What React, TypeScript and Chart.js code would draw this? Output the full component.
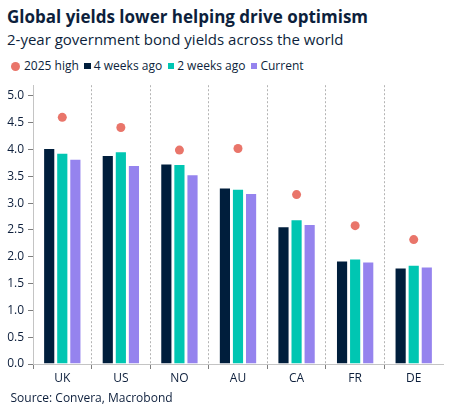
import React, { useEffect, useRef } from "react";
import { Chart, registerables } from "chart.js";

Chart.register(...registerables);

const categories = ["UK", "US", "NO", "AU", "CA", "FR", "DE"];
const high2025 = [4.6, 4.41, 3.99, 4.02, 3.16, 2.58, 2.32];
const weeks4Ago = [4.03, 3.9, 3.74, 3.29, 2.57, 1.93, 1.8];
const weeks2Ago = [3.94, 3.97, 3.73, 3.27, 2.7, 1.97, 1.85];
const current = [3.83, 3.71, 3.54, 3.19, 2.61, 1.91, 1.82];
const yTickValues = [0, 0.5, 1, 1.5, 2, 2.5, 3, 3.5, 4, 4.5, 5];

const seriesNames = ["2025 high", "4 weeks ago", "2 weeks ago", "Current"];
const seriesColors = ["#E9756A", "#001E3C", "#00C6B2", "#9583EE"];

const FONT = "'Open Sans', 'Noto Sans', sans-serif";
const TEXT = "#0D1F3C";

export default function App() {
  const canvasRef = useRef<HTMLCanvasElement | null>(null);

  useEffect(() => {
    if (!canvasRef.current) return;
    const barStyle = {
      borderColor: "rgba(255,255,255,0.45)",
      borderWidth: 1,
      categoryPercentage: 0.67,
      barPercentage: 0.93,
    };
    const chart = new Chart(canvasRef.current, {
      type: "bar",
      data: {
        labels: categories,
        datasets: [
          {
            type: "line",
            label: seriesNames[0],
            data: high2025,
            showLine: false,
            pointRadius: 4.5,
            pointHoverRadius: 4.5,
            pointBorderWidth: 0,
            pointBackgroundColor: seriesColors[0],
            borderColor: seriesColors[0],
            backgroundColor: seriesColors[0],
          } as any,
          { label: seriesNames[1], data: weeks4Ago, backgroundColor: seriesColors[1], ...barStyle },
          { label: seriesNames[2], data: weeks2Ago, backgroundColor: seriesColors[2], ...barStyle },
          { label: seriesNames[3], data: current, backgroundColor: seriesColors[3], ...barStyle },
        ],
      },
      options: {
        animation: false,
        responsive: false,
        maintainAspectRatio: false,
        layout: { padding: { top: 6, right: 16, left: 0, bottom: 0 } },
        plugins: {
          legend: { display: false },
          tooltip: { enabled: false },
          title: { display: false },
        },
        scales: {
          x: {
            grid: {
              offset: true,
              drawOnChartArea: true,
              drawTicks: true,
              tickLength: 5,
              lineWidth: 1,
              color: (c: any) =>
                typeof c.index === "number" && c.index > 0 ? "#B4B4B4" : "rgba(0,0,0,0)",
              tickColor: (c: any) =>
                typeof c.index === "number" ? "#7F7F7F" : "rgba(0,0,0,0)",
            },
            border: { display: true, color: "#C4C4C4", width: 1, dash: [2, 2] },
            ticks: {
              color: TEXT,
              font: { family: FONT, size: 12 },
              padding: 2,
              maxRotation: 0,
            },
            afterFit: (scale: any) => {
              scale.height = 26;
            },
          },
          y: {
            min: 0,
            max: 5.2,
            grid: {
              drawOnChartArea: false,
              drawTicks: true,
              tickLength: 5,
              tickColor: "#7F7F7F",
            },
            border: { display: true, color: "#C4C4C4", width: 1 },
            ticks: {
              color: TEXT,
              font: { family: FONT, size: 12 },
              padding: 4,
              callback: (v: any) => Number(v).toFixed(1),
            },
            afterBuildTicks: (scale: any) => {
              scale.ticks = yTickValues.map((v) => ({ value: v }));
            },
            afterFit: (scale: any) => {
              scale.width = 33;
            },
          },
        },
      },
    });
    return () => chart.destroy();
  }, []);

  const legendMarker = (i: number) =>
    i === 0 ? (
      <span
        style={{
          display: "inline-block",
          width: 9,
          height: 9,
          borderRadius: "50%",
          background: seriesColors[i],
          marginRight: 4.5,
        }}
      />
    ) : (
      <span
        style={{
          display: "inline-block",
          width: 6.5,
          height: 6.5,
          background: seriesColors[i],
          marginRight: 3,
        }}
      />
    );

  return (
    <div
      style={{
        position: "absolute",
        left: 0,
        top: 0,
        width: 459,
        height: 415,
        background: "#fff",
        fontFamily: FONT,
        color: TEXT,
        overflow: "hidden",
      }}
    >
      <div
        style={{
          position: "absolute",
          left: 7,
          top: 8.2,
          fontSize: 17,
          lineHeight: "17px",
          fontWeight: 700,
          whiteSpace: "nowrap",
        }}
      >
        Global yields lower helping drive optimism
      </div>
      <div
        style={{
          position: "absolute",
          left: 7,
          top: 31.7,
          fontSize: 15,
          lineHeight: "15px",
          whiteSpace: "nowrap",
        }}
      >
        2-year government bond yields across the world
      </div>
      <div
        style={{
          position: "absolute",
          left: 10.5,
          top: 60,
          height: 12,
          display: "flex",
          alignItems: "center",
          fontSize: 12,
          lineHeight: "12px",
          whiteSpace: "nowrap",
        }}
      >
        {seriesNames.map((n, i) => (
          <span key={n} style={{ display: "flex", alignItems: "center", marginRight: 5.5 }}>
            {legendMarker(i)}
            <span>{n}</span>
          </span>
        ))}
      </div>
      <canvas
        ref={canvasRef}
        width={459}
        height={316}
        style={{ position: "absolute", left: 0, top: 74, width: 459, height: 316 }}
      />
      <div
        style={{
          position: "absolute",
          left: 10.5,
          top: 391.6,
          fontSize: 12,
          lineHeight: "12px",
          whiteSpace: "nowrap",
        }}
      >
        Source: Convera, Macrobond
      </div>
    </div>
  );
}
